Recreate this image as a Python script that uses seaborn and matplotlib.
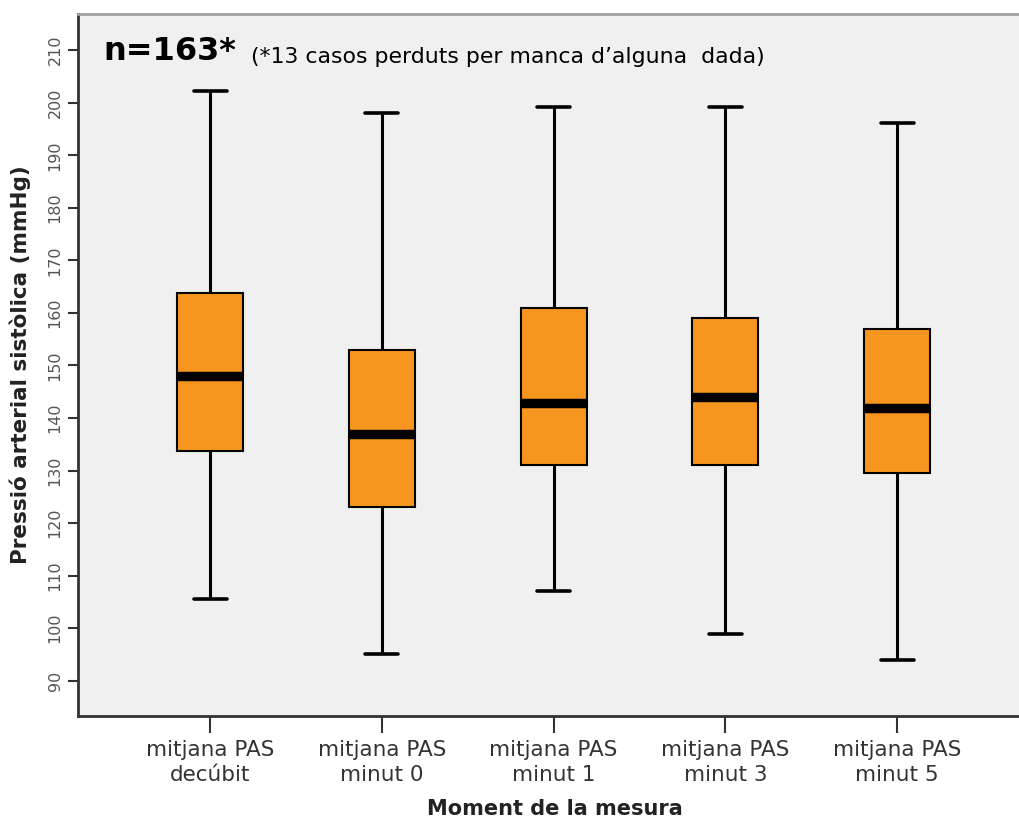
# Import dependencies.
import numpy as np
import pandas as pd
import seaborn as sns
import matplotlib.pyplot as plt

# Five-number summaries (min, Q1, median, Q3, max).
categories = ["mitjana PAS\ndecúbit", "mitjana PAS\nminut 0", "mitjana PAS\nminut 1",
              "mitjana PAS\nminut 3", "mitjana PAS\nminut 5"]
decubit = [105.5, 133.8, 148.0, 163.8, 202.2]
minut_0 = [95.1, 123.1, 137.0, 152.9, 198.0]
minut_1 = [107.0, 131.0, 142.9, 161.0, 199.1]
minut_3 = [98.9, 131.0, 144.0, 159.0, 199.1]
minut_5 = [93.9, 129.6, 141.9, 156.9, 196.1]
yticks = [90, 100, 110, 120, 130, 140, 150, 160, 170, 180, 190, 200, 210]

# Long table: with 5 points per group the quartiles fall exactly on the summary values.
series = [decubit, minut_0, minut_1, minut_3, minut_5]
df = pd.DataFrame({
    "moment": np.repeat(categories, 5),
    "pas": np.concatenate(series),
})

sns.set_style("white")
plt.rcParams['font.family'] = ['DejaVu Sans']

fig = plt.figure(figsize=(10.19, 8.21), dpi=100)
ax = fig.add_axes([0.0765, 0.128, 0.9235, 0.855])
ax.set_facecolor("#F0F0F0")

sns.boxplot(data=df, x="moment", y="pas", order=categories, ax=ax,
            color="#F7961E", saturation=1, width=0.385, whis=np.inf,
            linecolor="black", linewidth=1.5, fliersize=0,
            medianprops={"linewidth": 6.8, "color": "black"},
            whiskerprops={"linewidth": 2.2, "color": "black"},
            capprops={"linewidth": 2.6, "color": "black"})

ax.set_ylim(83.3, 216.9)
ax.set_xlim(-0.77, 4.71)
ax.set_yticks(yticks)
ax.set_yticklabels([str(t) for t in yticks], rotation=90, va="center",
                   fontsize=11.5, color="#555555")
ax.set_xticks(range(len(categories)))
ax.set_xticklabels(categories, linespacing=1.35, fontsize=15.5, color="#333333")
ax.tick_params(axis="y", direction="out", length=7, width=1.5, color="#333333", pad=4, left=True)
ax.tick_params(axis="x", direction="out", length=12, width=1.5, color="#333333", pad=5,
               bottom=True)

for side in ["left", "bottom"]:
    ax.spines[side].set_color("#333333")
    ax.spines[side].set_linewidth(2)
ax.spines["top"].set_color("#A0A0A0")
ax.spines["top"].set_linewidth(2)
ax.spines["right"].set_visible(False)

ax.set_ylabel("Pressió arterial sistòlica (mmHg)", fontsize=15.5, fontweight="bold",
              color="#222222")
ax.yaxis.set_label_coords(-0.05, 0.5)
ax.set_xlabel("Moment de la mesura", fontsize=15, fontweight="bold", color="#222222")
ax.xaxis.set_label_coords(0.507, -0.119)

fig.text(0.101, 0.937, "n=163*", fontsize=23, fontweight="bold", color="black", va="center")
fig.text(0.246, 0.931, "(*13 casos perduts per manca d’alguna  dada)", fontsize=15.8,
         color="black", va="center")

fig.savefig("out.png", dpi=100)
